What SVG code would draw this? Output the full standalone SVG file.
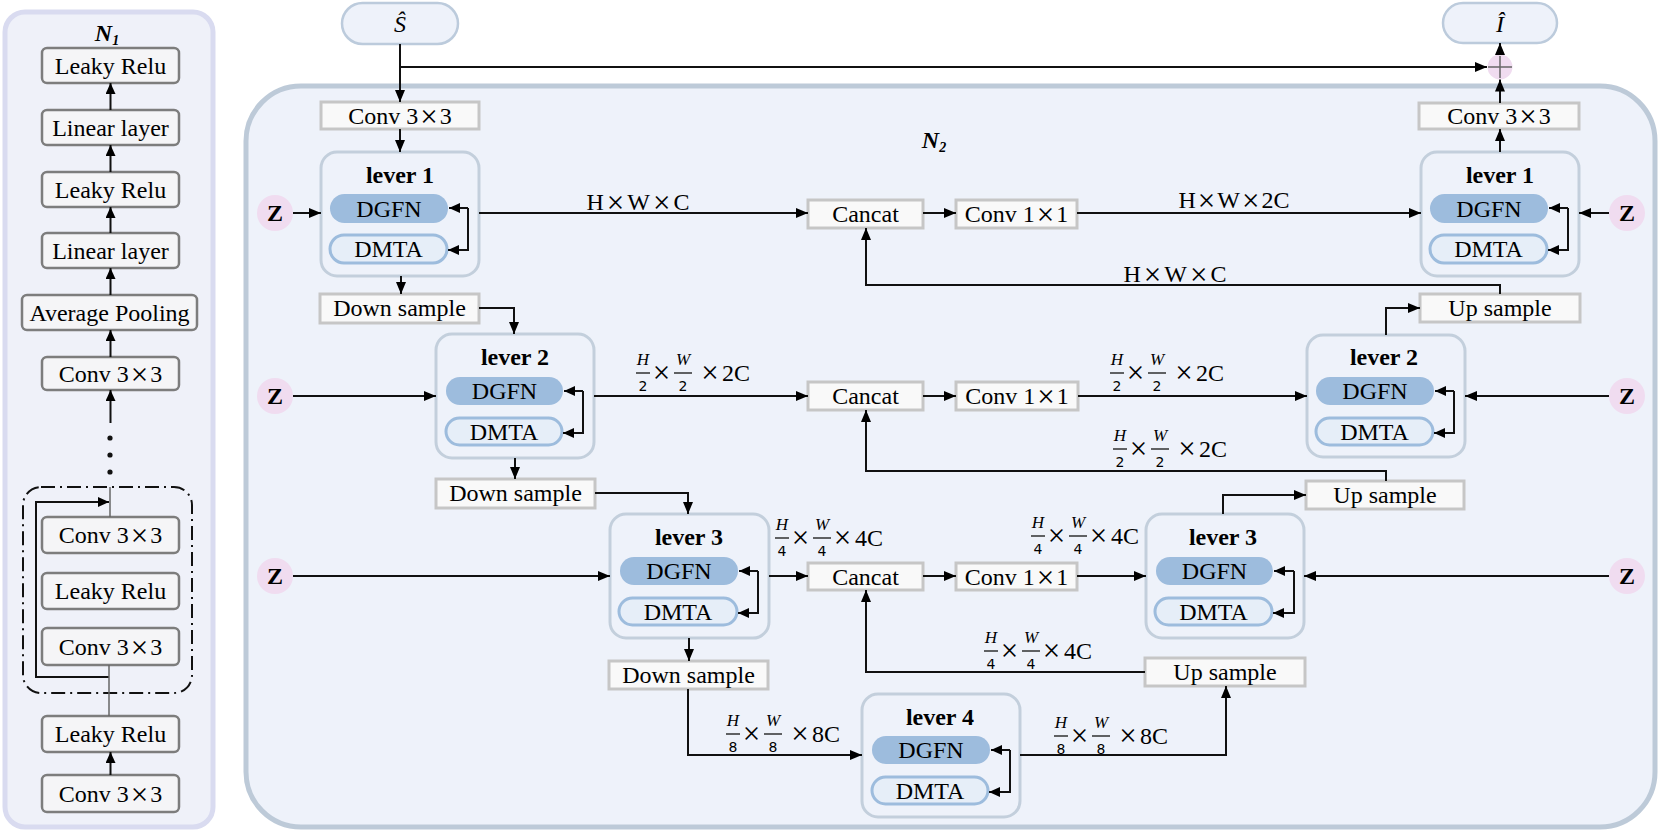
<svg xmlns="http://www.w3.org/2000/svg" width="1661" height="834" viewBox="0 0 1661 834">
<defs>
<style>
.t{font-family:"Liberation Serif","Times New Roman",serif;font-size:24px;fill:#000;text-anchor:middle}
.bd{font-weight:bold}
.it{font-style:italic}
.x{font-size:31px}
.ln{stroke:#111;stroke-width:2;fill:none}
.gl{stroke:#666;stroke-width:1.5;fill:none}
.a{marker-end:url(#ah)}
.as{marker-end:url(#ahs)}
.nb{fill:#f5f5f7;stroke:#7d7d7d;stroke-width:2.5}
.rb{fill:#f9f9f9;stroke:#c6c6c6;stroke-width:3}
.lv{fill:#eef2fa;stroke:#c3cfdc;stroke-width:3}
.dg{fill:#9dbcdd}
.dm{fill:#e6eef8;stroke:#9dbcdd;stroke-width:3}
.zc{fill:#f0dcf0}
.mi{font-family:"Liberation Serif","Times New Roman",serif;font-style:italic;font-size:17px;fill:#000;text-anchor:middle}
.md{font-family:"DejaVu Sans",sans-serif;font-size:14px;fill:#000;text-anchor:middle}
.op{font-family:"Liberation Serif","Times New Roman",serif;font-size:24px;fill:#000}
.ox{font-family:"Liberation Serif","Times New Roman",serif;font-size:31px;fill:#000;text-anchor:middle}
.fb{stroke:#111;stroke-width:1.3}
</style>
<marker id="ah" viewBox="0 0 12 10" refX="12" refY="5" markerWidth="12" markerHeight="10" markerUnits="userSpaceOnUse" orient="auto"><path d="M0,0L12,5L0,10z" fill="#000"/></marker>
<marker id="ahs" viewBox="0 0 11 10" refX="11" refY="5" markerWidth="11" markerHeight="10" markerUnits="userSpaceOnUse" orient="auto"><path d="M0,0L11,5L0,10z" fill="#000"/></marker>
</defs>

<!-- N1 panel -->
<g id="panel-n1">
<rect x="5" y="12" width="208" height="815" rx="20" fill="#eff1f9" stroke="#d9dbf0" stroke-width="5"/>
<text class="t bd it" x="107" y="41" font-size="21">N<tspan font-size="14" dy="4">1</tspan></text>
</g>
<g id="n1-leaky1"><rect class="nb" x="42" y="48" width="137" height="35" rx="5"/><text class="t" x="110.5" y="73.5">Leaky Relu</text></g>
<g id="n1-linear1"><rect class="nb" x="42" y="110" width="137" height="35" rx="5"/><text class="t" x="110.5" y="135.5">Linear layer</text></g>
<g id="n1-leaky2"><rect class="nb" x="42" y="172" width="137" height="35" rx="5"/><text class="t" x="110.5" y="197.5">Leaky Relu</text></g>
<g id="n1-linear2"><rect class="nb" x="42" y="233" width="137" height="35" rx="5"/><text class="t" x="110.5" y="258.5">Linear layer</text></g>
<g id="n1-avgpool"><rect class="nb" x="22" y="295" width="175" height="35" rx="5"/><text class="t" x="109.5" y="320.5">Average Pooling</text></g>
<g id="n1-conv1"><rect class="nb" x="42" y="357" width="137" height="33" rx="5"/><text class="t" x="110.5" y="381.5">Conv 3<tspan class="x" dx="2" dy="3">×</tspan><tspan dx="2" dy="-3">3</tspan></text></g>
<g id="n1-block"><rect x="23" y="487" width="169" height="206" rx="18" fill="none" stroke="#111" stroke-width="2" stroke-dasharray="14 5 2 5"/></g>
<g id="n1-conv2"><rect class="nb" x="42" y="517" width="137" height="36" rx="5"/><text class="t" x="110.5" y="543">Conv 3<tspan class="x" dx="2" dy="3">×</tspan><tspan dx="2" dy="-3">3</tspan></text></g>
<g id="n1-leaky3"><rect class="nb" x="42" y="573" width="137" height="36" rx="5"/><text class="t" x="110.5" y="599">Leaky Relu</text></g>
<g id="n1-conv3"><rect class="nb" x="42" y="628" width="137" height="37" rx="5"/><text class="t" x="110.5" y="654.5">Conv 3<tspan class="x" dx="2" dy="3">×</tspan><tspan dx="2" dy="-3">3</tspan></text></g>
<g id="n1-leaky4"><rect class="nb" x="42" y="716" width="137" height="36" rx="5"/><text class="t" x="110.5" y="742">Leaky Relu</text></g>
<g id="n1-conv4"><rect class="nb" x="42" y="775" width="137" height="37" rx="5"/><text class="t" x="110.5" y="801.5">Conv 3<tspan class="x" dx="2" dy="3">×</tspan><tspan dx="2" dy="-3">3</tspan></text></g>
<g id="n1-dots" fill="#111"><circle cx="110" cy="438" r="2.6"/><circle cx="110" cy="455" r="2.6"/><circle cx="110" cy="472" r="2.6"/></g>

<!-- N2 main -->
<g id="panel-n2">
<rect x="246" y="86" width="1409" height="741" rx="55" fill="#eef2fa" stroke="#bdcad8" stroke-width="5"/>
<text class="t bd it" x="934" y="148" font-size="21">N<tspan font-size="14" dy="4">2</tspan></text>
</g>

<g id="s-hat"><rect x="342" y="3" width="116" height="41" rx="20.5" fill="#eef2fa" stroke="#bccbdc" stroke-width="2.5"/><text class="t it" x="400" y="32">Ŝ</text></g>
<g id="i-hat"><rect x="1443" y="3" width="114" height="40" rx="20" fill="#eef2fa" stroke="#bccbdc" stroke-width="2.5"/><text class="t it" x="1500" y="32">Î</text></g>
<g id="plus"><circle cx="1500" cy="67" r="12.5" fill="#f0dcf0"/><path d="M1488,67H1512M1500,56V78" stroke="#666" stroke-width="1.5"/></g>

<g id="conv-in"><rect class="rb" x="321" y="102" width="158" height="27"/><text class="t" x="400" y="124">Conv 3<tspan class="x" dx="2" dy="3">×</tspan><tspan dx="2" dy="-3">3</tspan></text></g>
<g id="conv-out"><rect class="rb" x="1419" y="103" width="160" height="26"/><text class="t" x="1499" y="124">Conv 3<tspan class="x" dx="2" dy="3">×</tspan><tspan dx="2" dy="-3">3</tspan></text></g>

<g id="down1"><rect class="rb" x="320" y="294" width="159" height="29"/><text class="t" x="399.5" y="316">Down sample</text></g>
<g id="down2"><rect class="rb" x="436" y="479" width="159" height="29"/><text class="t" x="515.5" y="501">Down sample</text></g>
<g id="down3"><rect class="rb" x="609" y="661" width="159" height="28"/><text class="t" x="688.5" y="683">Down sample</text></g>
<g id="up1"><rect class="rb" x="1420" y="294" width="160" height="28"/><text class="t" x="1500" y="316">Up sample</text></g>
<g id="up2"><rect class="rb" x="1306" y="481" width="158" height="28"/><text class="t" x="1385" y="503">Up sample</text></g>
<g id="up3"><rect class="rb" x="1145" y="658" width="160" height="28"/><text class="t" x="1225" y="680">Up sample</text></g>

<g id="cancat1"><rect class="rb" x="808" y="200" width="115" height="28"/><text class="t" x="865.5" y="222">Cancat</text></g>
<g id="cancat2"><rect class="rb" x="808" y="382" width="115" height="28"/><text class="t" x="865.5" y="404">Cancat</text></g>
<g id="cancat3"><rect class="rb" x="808" y="563" width="115" height="27"/><text class="t" x="865.5" y="584.5">Cancat</text></g>
<g id="conv11-1"><rect class="rb" x="956" y="200" width="121" height="28"/><text class="t" x="1016.5" y="222">Conv 1<tspan class="x" dx="2" dy="3">×</tspan><tspan dx="2" dy="-3">1</tspan></text></g>
<g id="conv11-2"><rect class="rb" x="956" y="382" width="122" height="28"/><text class="t" x="1017" y="404">Conv 1<tspan class="x" dx="2" dy="3">×</tspan><tspan dx="2" dy="-3">1</tspan></text></g>
<g id="conv11-3"><rect class="rb" x="956" y="563" width="121" height="27"/><text class="t" x="1016.5" y="584.5">Conv 1<tspan class="x" dx="2" dy="3">×</tspan><tspan dx="2" dy="-3">1</tspan></text></g>

<g id="lever1-enc" transform="translate(321,152)"><rect class="lv" width="158" height="124" rx="16"/><text class="t bd" x="79" y="31">lever 1</text><rect class="dg" x="9" y="42" width="118" height="29" rx="14.5"/><text class="t" x="68" y="64.5">DGFN</text><rect class="dm" x="9" y="83" width="117" height="28" rx="14"/><text class="t" x="67.5" y="105">DMTA</text></g>
<g id="lever2-enc" transform="translate(436,334)"><rect class="lv" width="158" height="124" rx="16"/><text class="t bd" x="79" y="31">lever 2</text><rect class="dg" x="10" y="43" width="117" height="28" rx="14"/><text class="t" x="68.5" y="65">DGFN</text><rect class="dm" x="10" y="84" width="116" height="27" rx="13.5"/><text class="t" x="68" y="105.5">DMTA</text></g>
<g id="lever3-enc" transform="translate(610,514)"><rect class="lv" width="159" height="124" rx="16"/><text class="t bd" x="79" y="31">lever 3</text><rect class="dg" x="10" y="43" width="118" height="28" rx="14"/><text class="t" x="69" y="65">DGFN</text><rect class="dm" x="9" y="84" width="118" height="27" rx="13.5"/><text class="t" x="68" y="105.5">DMTA</text></g>
<g id="lever4" transform="translate(862,694)"><rect class="lv" width="158" height="123" rx="16"/><text class="t bd" x="78" y="31">lever 4</text><rect class="dg" x="10" y="42" width="118" height="28" rx="14"/><text class="t" x="69" y="64">DGFN</text><rect class="dm" x="10" y="83" width="116" height="27" rx="13.5"/><text class="t" x="68" y="104.5">DMTA</text></g>
<g id="lever1-dec" transform="translate(1421,152)"><rect class="lv" width="158" height="124" rx="16"/><text class="t bd" x="79" y="31">lever 1</text><rect class="dg" x="9" y="42" width="118" height="29" rx="14.5"/><text class="t" x="68" y="64.5">DGFN</text><rect class="dm" x="9" y="83" width="117" height="28" rx="14"/><text class="t" x="67.5" y="105">DMTA</text></g>
<g id="lever2-dec" transform="translate(1307,335)"><rect class="lv" width="158" height="122" rx="16"/><text class="t bd" x="77" y="30">lever 2</text><rect class="dg" x="9" y="42" width="118" height="28" rx="14"/><text class="t" x="68" y="64">DGFN</text><rect class="dm" x="9" y="83" width="117" height="27" rx="13.5"/><text class="t" x="67.5" y="104.5">DMTA</text></g>
<g id="lever3-dec" transform="translate(1146,514)"><rect class="lv" width="158" height="124" rx="16"/><text class="t bd" x="77" y="31">lever 3</text><rect class="dg" x="10" y="43" width="117" height="28" rx="14"/><text class="t" x="68.5" y="65">DGFN</text><rect class="dm" x="9" y="84" width="117" height="27" rx="13.5"/><text class="t" x="67.5" y="105.5">DMTA</text></g>

<g id="z-nodes">
<circle class="zc" cx="275" cy="213" r="18"/><text class="t bd" x="275" y="221">Z</text>
<circle class="zc" cx="275" cy="396" r="18"/><text class="t bd" x="275" y="404">Z</text>
<circle class="zc" cx="275" cy="576" r="18"/><text class="t bd" x="275" y="584">Z</text>
<circle class="zc" cx="1627" cy="213" r="18"/><text class="t bd" x="1627" y="221">Z</text>
<circle class="zc" cx="1627" cy="396" r="18"/><text class="t bd" x="1627" y="404">Z</text>
<circle class="zc" cx="1627" cy="576" r="18"/><text class="t bd" x="1627" y="584">Z</text>
</g>

<g id="connectors">
<!-- N1 -->
<path class="ln as" d="M110.5,110V83"/>
<path class="ln as" d="M110.5,172V145"/>
<path class="ln as" d="M110.5,233V207"/>
<path class="ln as" d="M110.5,295V268"/>
<path class="ln as" d="M110.5,357V330"/>
<path class="ln as" d="M110.5,423V390"/>
<path class="gl" d="M110,487V517"/>
<path class="ln as" d="M109,677H36V502H109"/>
<path class="gl" d="M109,665V716"/>
<path class="ln as" d="M110.5,775V752"/>
<!-- N2 -->
<path class="ln a" d="M400,44V102"/>
<path class="ln a" d="M400,67H1487"/>
<path class="ln a" d="M400,129V152"/>
<path class="ln a" d="M401,276V294"/>
<path class="ln a" d="M1500,152V129"/>
<path class="ln a" d="M1500,103V79.5"/>
<path class="ln a" d="M1500,54.5V43"/>
<path class="ln a" d="M293,213H321"/>
<path class="ln a" d="M479,213H808"/>
<path class="ln a" d="M923,213H956"/>
<path class="ln a" d="M1077,213H1421"/>
<path class="ln a" d="M1609,213H1579"/>
<path class="ln a" d="M1500,294V285H866V228"/>
<path class="ln a" d="M1386,335V308H1420"/>
<path class="ln a" d="M479,308H514V334"/>
<path class="ln a" d="M293,396H436"/>
<path class="ln a" d="M594,396H808"/>
<path class="ln a" d="M923,396H956"/>
<path class="ln a" d="M1078,396H1307"/>
<path class="ln a" d="M1609,396H1465"/>
<path class="ln a" d="M1386,481V471H866V410"/>
<path class="ln a" d="M1223,514V495H1306"/>
<path class="ln a" d="M515,458V479"/>
<path class="ln a" d="M595,493H688V514"/>
<path class="ln a" d="M293,576H610"/>
<path class="ln a" d="M769,576H808"/>
<path class="ln a" d="M923,576H956"/>
<path class="ln a" d="M1077,576H1146"/>
<path class="ln a" d="M1609,576H1304"/>
<path class="ln a" d="M1145,672H866V590"/>
<path class="ln a" d="M689,638V661"/>
<path class="ln a" d="M688,689V755H862"/>
<path class="ln a" d="M1020,755H1226V686"/>
<!-- lever feedback loops -->
<path class="ln as" d="M468,208H449"/><path class="ln as" d="M468,208V250H448"/>
<path class="ln as" d="M583,391H564"/><path class="ln as" d="M583,391V433H563"/>
<path class="ln as" d="M758,571H739"/><path class="ln as" d="M758,571V613H738"/>
<path class="ln as" d="M1010,750H991"/><path class="ln as" d="M1010,750V792H989"/>
<path class="ln as" d="M1568,208H1549"/><path class="ln as" d="M1568,208V250H1548"/>
<path class="ln as" d="M1454,391H1435"/><path class="ln as" d="M1454,391V433H1434"/>
<path class="ln as" d="M1294,571H1274"/><path class="ln as" d="M1294,571V613H1273"/>
</g>

<g id="labels">
<text class="t" x="638" y="210">H<tspan class="x" dx="3" dy="3">×</tspan><tspan dx="3" dy="-3">W</tspan><tspan class="x" dx="3" dy="3">×</tspan><tspan dx="3" dy="-3">C</tspan></text>
<text class="t" x="1234" y="208">H<tspan class="x" dx="2" dy="3">×</tspan><tspan dx="2" dy="-3">W</tspan><tspan class="x" dx="2" dy="3">×</tspan><tspan dx="2" dy="-3">2C</tspan></text>
<text class="t" x="1175" y="282">H<tspan class="x" dx="3" dy="3">×</tspan><tspan dx="3" dy="-3">W</tspan><tspan class="x" dx="3" dy="3">×</tspan><tspan dx="3" dy="-3">C</tspan></text>
<g transform="translate(636,352)">
<text class="mi" x="7" y="13">H</text><path class="fb" d="M0,21H14"/><text class="md" x="7" y="39">2</text>
<text class="ox" x="25.5" y="31">×</text>
<text class="mi" x="47" y="13">W</text><path class="fb" d="M38,21H56"/><text class="md" x="47" y="39">2</text>
<text class="ox" x="74" y="31">×</text><text class="op" x="86" y="29">2C</text>
</g>
<g transform="translate(1110,352)">
<text class="mi" x="7" y="13">H</text><path class="fb" d="M0,21H14"/><text class="md" x="7" y="39">2</text>
<text class="ox" x="25.5" y="31">×</text>
<text class="mi" x="47" y="13">W</text><path class="fb" d="M38,21H56"/><text class="md" x="47" y="39">2</text>
<text class="ox" x="74" y="31">×</text><text class="op" x="86" y="29">2C</text>
</g>
<g transform="translate(1113,428)">
<text class="mi" x="7" y="13">H</text><path class="fb" d="M0,21H14"/><text class="md" x="7" y="39">2</text>
<text class="ox" x="25.5" y="31">×</text>
<text class="mi" x="47" y="13">W</text><path class="fb" d="M38,21H56"/><text class="md" x="47" y="39">2</text>
<text class="ox" x="74" y="31">×</text><text class="op" x="86" y="29">2C</text>
</g>
<g transform="translate(775,517)">
<text class="mi" x="7" y="13">H</text><path class="fb" d="M0,21H14"/><text class="md" x="7" y="39">4</text>
<text class="ox" x="25.5" y="31">×</text>
<text class="mi" x="47" y="13">W</text><path class="fb" d="M38,21H56"/><text class="md" x="47" y="39">4</text>
<text class="ox" x="67.5" y="31">×</text><text class="op" x="80" y="29">4C</text>
</g>
<g transform="translate(1031,515)">
<text class="mi" x="7" y="13">H</text><path class="fb" d="M0,21H14"/><text class="md" x="7" y="39">4</text>
<text class="ox" x="25.5" y="31">×</text>
<text class="mi" x="47" y="13">W</text><path class="fb" d="M38,21H56"/><text class="md" x="47" y="39">4</text>
<text class="ox" x="67.5" y="31">×</text><text class="op" x="80" y="29">4C</text>
</g>
<g transform="translate(984,630)">
<text class="mi" x="7" y="13">H</text><path class="fb" d="M0,21H14"/><text class="md" x="7" y="39">4</text>
<text class="ox" x="25.5" y="31">×</text>
<text class="mi" x="47" y="13">W</text><path class="fb" d="M38,21H56"/><text class="md" x="47" y="39">4</text>
<text class="ox" x="67.5" y="31">×</text><text class="op" x="80" y="29">4C</text>
</g>
<g transform="translate(726,713)">
<text class="mi" x="7" y="13">H</text><path class="fb" d="M0,21H14"/><text class="md" x="7" y="39">8</text>
<text class="ox" x="25.5" y="31">×</text>
<text class="mi" x="47" y="13">W</text><path class="fb" d="M38,21H56"/><text class="md" x="47" y="39">8</text>
<text class="ox" x="74" y="31">×</text><text class="op" x="86" y="29">8C</text>
</g>
<g transform="translate(1054,715)">
<text class="mi" x="7" y="13">H</text><path class="fb" d="M0,21H14"/><text class="md" x="7" y="39">8</text>
<text class="ox" x="25.5" y="31">×</text>
<text class="mi" x="47" y="13">W</text><path class="fb" d="M38,21H56"/><text class="md" x="47" y="39">8</text>
<text class="ox" x="74" y="31">×</text><text class="op" x="86" y="29">8C</text>
</g>
</g>
</svg>
